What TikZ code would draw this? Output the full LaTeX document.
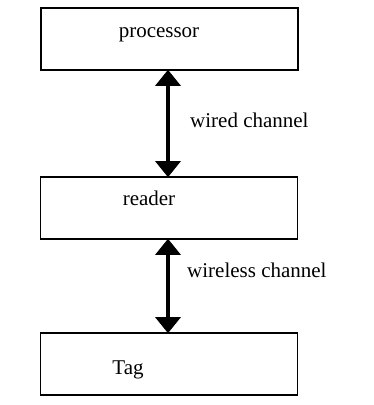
\documentclass[tikz,border=0pt]{standalone}
\usepackage{fontspec}
\setmainfont{Liberation Serif}
\usetikzlibrary{arrows.meta}
\begin{document}
\begin{tikzpicture}[x=1pt,y=1pt,
  block/.style={draw, line width=1.6pt, minimum width=257pt, minimum height=62pt, inner sep=0pt},
  lbl/.style={font=\fontsize{21}{24}\selectfont, inner sep=0pt},
  link/.style={line width=3.2pt, {Triangle[width=25pt,length=16pt]}-{Triangle[width=25pt,length=16pt]}, shorten <=-1pt, shorten >=-1pt}]
  \useasboundingbox (0,0) rectangle (374,405);
  % three stacked blocks
  \node[block] (proc) at (169.5,366) {};
  \node[block] (read) at (169,197) {};
  \node[block] (tag)  at (169,41) {};
  % block captions
  \node[lbl] (proctext) at (159,370) {processor};
  \node[lbl] (readtext) at (149,207) {reader};
  \node[lbl] (tagtext)  at (128,35) {Tag};
  % anchor points of the connectors
  \coordinate (a1) at (168,0 |- proc.south);
  \coordinate (a2) at (168,0 |- read.north);
  \coordinate (b1) at (168,0 |- read.south);
  \coordinate (b2) at (168,0 |- tag.north);
  \draw[link] (a1) -- (a2);
  \draw[link] (b1) -- (b2);
  % channel labels
  \node[lbl, anchor=west] (wired) at (190,285) {wired channel};
  \node[lbl, anchor=west] (wireless) at (187,135) {wireless channel};
\end{tikzpicture}
\end{document}
